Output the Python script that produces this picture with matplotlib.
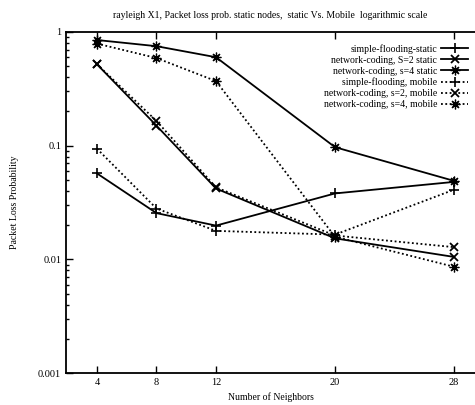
import matplotlib
matplotlib.use("Agg")
import matplotlib.pyplot as plt
from matplotlib.ticker import LogLocator, NullFormatter, FixedFormatter, FixedLocator

plt.rcParams['font.family'] = ['Liberation Serif', 'DejaVu Serif']

neighbors = [4, 8, 12, 20, 28]

flood_static = [0.057, 0.0255, 0.0198, 0.038, 0.048]
nc2_static = [0.52, 0.15, 0.042, 0.0153, 0.0105]
nc4_static = [0.85, 0.75, 0.60, 0.097, 0.049]
flood_mobile = [0.094, 0.028, 0.0178, 0.0165, 0.041]
nc2_mobile = [0.52, 0.165, 0.043, 0.0162, 0.0128]
nc4_mobile = [0.79, 0.59, 0.37, 0.0158, 0.0086]

labels = ["simple-flooding-static", "network-coding, S=2 static",
          "network-coding, s=4 static", "simple-flooding, mobile",
          "network-coding, s=2, mobile", "network-coding, s=4, mobile"]
yticks = [0.001, 0.01, 0.1, 1]
ytick_labels = ["0.001", "0.01", "0.1", "1"]

star = (8, 2, 0)
dots = (0, (1, 1.4))
# (values, linestyle, marker, marker size, marker edge width)
series = [
    (flood_static, '-', '+', 7, 1.2),
    (nc2_static, '-', 'x', 6, 1.3),
    (nc4_static, '-', star, 7, 0.9),
    (flood_mobile, dots, '+', 7, 1.2),
    (nc2_mobile, dots, 'x', 6, 1.3),
    (nc4_mobile, dots, star, 7, 0.9),
]

fig = plt.figure(figsize=(4.75, 4.05), dpi=100)
ax = fig.add_axes([0.139, 0.079, 0.861, 0.842])

for (vals, ls, mk, ms, mew), lab in zip(series, labels):
    ax.plot(neighbors, vals, linestyle=ls, marker=mk, color='black',
            linewidth=1.3, markersize=ms, markeredgewidth=mew, label=lab)

ax.set_yscale('log')
ax.set_ylim(0.001, 1)
ax.set_xlim(1.92, 29.41)
ax.yaxis.set_major_locator(FixedLocator(yticks))
ax.yaxis.set_major_formatter(FixedFormatter(ytick_labels))
ax.yaxis.set_minor_locator(LogLocator(base=10, subs=range(2, 10)))
ax.yaxis.set_minor_formatter(NullFormatter())
ax.set_xticks(neighbors)

ax.tick_params(which='both', direction='in', top=True, right=False,
               labelsize=7.5, width=1)
ax.tick_params(which='major', length=5)
ax.tick_params(which='minor', length=2.5)
for s in ['left', 'bottom', 'top']:
    ax.spines[s].set_linewidth(1.3)
ax.spines['right'].set_visible(False)

ax.set_xlabel("Number of Neighbors", fontsize=7)
ax.set_ylabel("Packet Loss Probability", fontsize=7, labelpad=14)
ax.set_title("rayleigh X1, Packet loss prob. static nodes,  static Vs. Mobile  logarithmic scale",
             fontsize=7, pad=10)

ax.legend(loc='upper right', frameon=False, fontsize=7, markerfirst=False,
          handlelength=2.8, labelspacing=0.2, borderaxespad=0.3,
          handletextpad=0.4, bbox_to_anchor=(1.0, 0.985))

fig.savefig("out.png", dpi=100)
